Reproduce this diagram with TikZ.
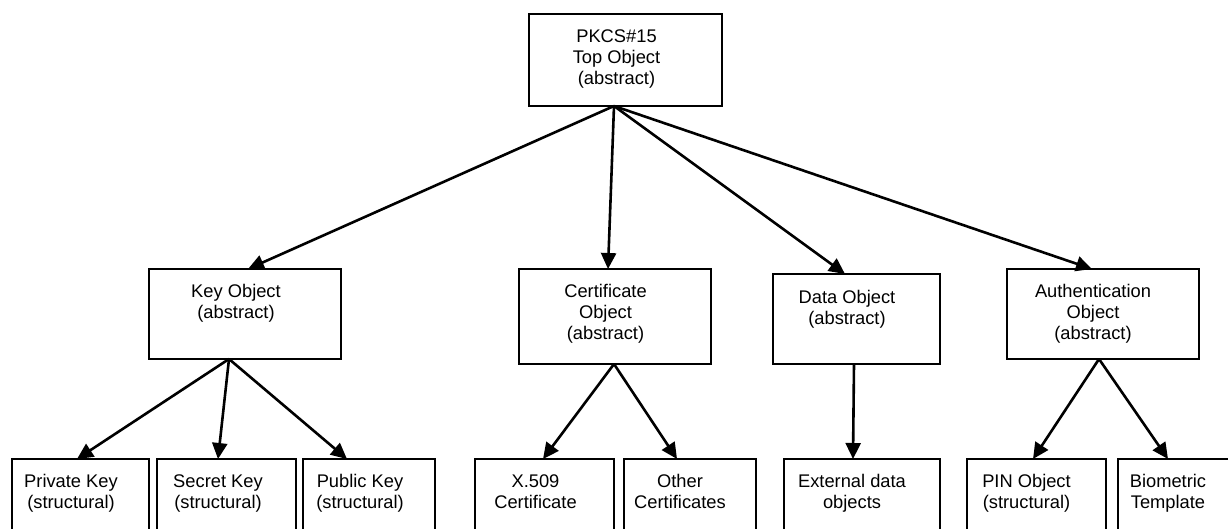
\documentclass[tikz,border=0pt]{standalone}
\usepackage{fontspec}
\setmainfont{Liberation Sans}
\usetikzlibrary{arrows.meta}
\begin{document}
\begin{tikzpicture}[x=1pt,y=-1pt,
  box/.style={draw=black, line width=2pt, fill=none, outer sep=0pt, inner sep=0pt},
  txt/.style={anchor=base, align=center, inner sep=0pt, font=\fontsize{18.3}{21}\selectfont},
  conn/.style={line width=2.6pt, -{Triangle[length=16pt,width=15pt]}, shorten >=0pt}]
\clip (0,0) rectangle (1228,528);
% boxes
\node[box, minimum width=193pt, minimum height=92pt] (top) at (625.5,60) {};
\node[box, minimum width=192pt, minimum height=90pt] (key) at (245,314) {};
\node[box, minimum width=192pt, minimum height=95pt] (cert) at (615,316.5) {};
\node[box, minimum width=167pt, minimum height=90pt] (data) at (856.5,319) {};
\node[box, minimum width=192pt, minimum height=90pt] (auth) at (1103,314) {};
\node[box, minimum width=137pt, minimum height=86pt] (priv) at (80.5,502) {};
\node[box, minimum width=139pt, minimum height=86pt] (sec) at (226.5,502) {};
\node[box, minimum width=132pt, minimum height=86pt] (pub) at (369,502) {};
\node[box, minimum width=139pt, minimum height=86pt] (x509) at (544.5,502) {};
\node[box, minimum width=132pt, minimum height=86pt] (other) at (690,502) {};
\node[box, minimum width=156pt, minimum height=86pt] (ext) at (862,502) {};
\node[box, minimum width=139pt, minimum height=86pt] (pin) at (1036.5,502) {};
\node[box, minimum width=118pt, minimum height=86pt] (bio) at (1177,502) {};
% texts (anchor base = baseline of the last line)
\node[txt] (ttop) at (616.5,84) {PKCS\#15\\Top Object\\(abstract)};
\node[txt] (tkey) at (236,318) {Key Object\\(abstract)};
\node[txt] (tcert) at (605.5,339) {Certificate\\Object\\(abstract)};
\node[txt] (tdata) at (847,324) {Data Object\\(abstract)};
\node[txt] (tauth) at (1093,339) {Authentication\\Object\\(abstract)};
\node[txt] (tpriv) at (71,508) {Private Key\\(structural)};
\node[txt] (tsec) at (218,508) {Secret Key\\(structural)};
\node[txt] (tpub) at (360,508) {Public Key\\(structural)};
\node[txt] (tx509) at (535.5,508) {X.509\\Certificate};
\node[txt] (tother) at (680,508) {Other\\Certificates};
\node[txt] (text) at (852,508) {External data\\objects};
\node[txt] (tpin) at (1026.5,508) {PIN Object\\(structural)};
\node[txt] (tbio) at (1168,508) {Biometric\\Template};
% connectors
\draw[conn] ([xshift=-11.5pt]top.south) -- ([xshift=3pt]key.north);
\draw[conn] ([xshift=-11.5pt]top.south) -- ([xshift=-7pt]cert.north);
\draw[conn] ([xshift=-11.5pt]top.south) -- ([xshift=-11.5pt]data.north);
\draw[conn] ([xshift=-11.5pt]top.south) -- ([xshift=-11pt]auth.north);
\draw[conn] ([xshift=-16pt]key.south) -- ([xshift=-3.5pt]priv.north);
\draw[conn] ([xshift=-16pt]key.south) -- ([xshift=-8.5pt]sec.north);
\draw[conn] ([xshift=-16pt]key.south) -- ([xshift=-22pt]pub.north);
\draw[conn] ([xshift=-1pt]cert.south) -- ([xshift=-1.5pt]x509.north);
\draw[conn] ([xshift=-1pt]cert.south) -- ([xshift=-13pt]other.north);
\draw[conn] ([xshift=-2.5pt]data.south) -- ([xshift=-9pt]ext.north);
\draw[conn] ([xshift=-4pt]auth.south) -- ([xshift=-3.5pt]pin.north);
\draw[conn] ([xshift=-4pt]auth.south) -- ([xshift=-9pt]bio.north);
\end{tikzpicture}
\end{document}
